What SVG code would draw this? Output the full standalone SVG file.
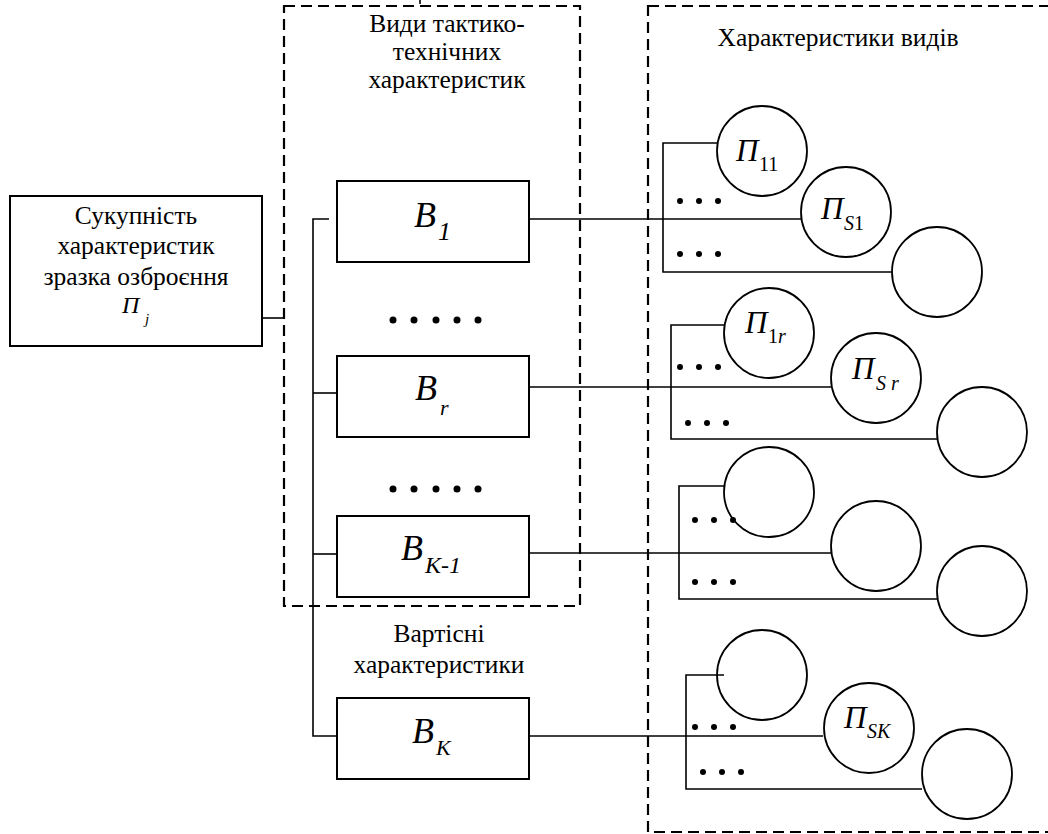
<svg xmlns="http://www.w3.org/2000/svg" width="1048" height="834" viewBox="0 0 1048 834">
<style>
text{font-family:"Liberation Serif","Tinos","DejaVu Serif",serif;fill:#000}
.t{font-size:25.5px;text-anchor:middle}
.b{font-style:italic}
.up{font-style:normal}
.box{fill:#fff;stroke:#000;stroke-width:2}
.cir{fill:none;stroke:#000;stroke-width:1.8}
.ln{fill:none;stroke:#000;stroke-width:1.6}
.dash{fill:none;stroke:#000;stroke-width:2.2;stroke-dasharray:11 6}
.dot{fill:#000}
</style>
<rect width="1048" height="834" fill="#fff"/>
<g id="groups">
<rect class="dash" x="284" y="6" width="296" height="600"/>
<rect class="dash" x="648" y="6" width="420" height="826"/>
<line class="ln" x1="420" y1="0" x2="420" y2="4"/>
<text class="t" x="447" y="32">Види тактико-</text>
<text class="t" x="447" y="60">технічних</text>
<text class="t" x="447" y="88">характеристик</text>
<text class="t" x="838" y="46">Характеристики видів</text>
<text class="t" x="439" y="642">Вартісні</text>
<text class="t" x="439" y="673">характеристики</text>
</g>
<g id="connectors">
<polyline class="ln" points="262,318 284,318"/>
<polyline class="ln" points="329,219 313,219 313,736 337,736"/>
<line class="ln" x1="313" y1="393" x2="337" y2="393"/>
<line class="ln" x1="313" y1="554" x2="337" y2="554"/>
<line class="ln" x1="529" y1="219" x2="801" y2="219"/>
<line class="ln" x1="529" y1="387" x2="831" y2="387"/>
<line class="ln" x1="529" y1="553" x2="831" y2="553"/>
<line class="ln" x1="529" y1="736" x2="823" y2="736"/>
<polyline class="ln" points="717,143 663,143 663,272 892,272"/>
<polyline class="ln" points="724,325 671,325 671,439 937,439"/>
<polyline class="ln" points="724,486 679,486 679,599 937,599"/>
<polyline class="ln" points="724,675 686,675 686,789 922,789"/>
</g>
<g id="dots">
<circle class="dot" cx="393" cy="320" r="3.5"/><circle class="dot" cx="414" cy="320" r="3.5"/><circle class="dot" cx="436" cy="320" r="3.5"/><circle class="dot" cx="457" cy="320" r="3.5"/><circle class="dot" cx="478" cy="320" r="3.5"/>
<circle class="dot" cx="393" cy="489" r="3.5"/><circle class="dot" cx="414" cy="489" r="3.5"/><circle class="dot" cx="436" cy="489" r="3.5"/><circle class="dot" cx="457" cy="489" r="3.5"/><circle class="dot" cx="478" cy="489" r="3.5"/>
<circle class="dot" cx="680" cy="201" r="3"/><circle class="dot" cx="699" cy="201" r="3"/><circle class="dot" cx="718" cy="201" r="3"/>
<circle class="dot" cx="680" cy="254" r="3"/><circle class="dot" cx="699" cy="254" r="3"/><circle class="dot" cx="718" cy="254" r="3"/>
<circle class="dot" cx="680" cy="367" r="3"/><circle class="dot" cx="699" cy="367" r="3"/><circle class="dot" cx="718" cy="367" r="3"/>
<circle class="dot" cx="688" cy="423" r="3"/><circle class="dot" cx="707" cy="423" r="3"/><circle class="dot" cx="726" cy="423" r="3"/>
<circle class="dot" cx="695" cy="520" r="3"/><circle class="dot" cx="714" cy="520" r="3"/><circle class="dot" cx="733" cy="520" r="3"/>
<circle class="dot" cx="695" cy="582" r="3"/><circle class="dot" cx="714" cy="582" r="3"/><circle class="dot" cx="733" cy="582" r="3"/>
<circle class="dot" cx="695" cy="727" r="3"/><circle class="dot" cx="714" cy="727" r="3"/><circle class="dot" cx="733" cy="727" r="3"/>
<circle class="dot" cx="703" cy="772" r="3"/><circle class="dot" cx="722" cy="772" r="3"/><circle class="dot" cx="741" cy="772" r="3"/>
</g>
<g id="node-total">
<rect class="box" x="10" y="196" width="252" height="150"/>
<text class="t" x="136" y="224">Сукупність</text>
<text class="t" x="136" y="254">характеристик</text>
<text class="t" x="136" y="285">зразка озброєння</text>
<text class="b" font-size="24" x="122" y="313">П<tspan font-size="15" x="145" y="324">j</tspan></text>
</g>
<g id="node-B1">
<rect class="box" x="337" y="181" width="192" height="81"/>
<text class="b" font-size="36" x="414" y="227">B<tspan font-size="26" x="438" y="240">1</tspan></text>
</g>
<g id="node-Br">
<rect class="box" x="337" y="356" width="192" height="81"/>
<text class="b" font-size="36" x="415" y="400">B<tspan font-size="22" x="440" y="415">r</tspan></text>
</g>
<g id="node-BK-1">
<rect class="box" x="337" y="516" width="192" height="81"/>
<text class="b" font-size="36" x="401" y="560">B<tspan font-size="24" x="425" y="573">K-1</tspan></text>
</g>
<g id="node-BK">
<rect class="box" x="337" y="698" width="192" height="81"/>
<text class="b" font-size="36" x="412" y="743">B<tspan font-size="22" x="436" y="755">K</tspan></text>
</g>
<g id="node-P11">
<circle class="cir" cx="762" cy="151" r="45"/>
<text class="b" font-size="31" x="736" y="161">П<tspan class="up" font-size="20" x="759" y="171">11</tspan></text>
</g>
<g id="node-PS1">
<circle class="cir" cx="846" cy="212" r="45"/>
<text class="b" font-size="31" x="821" y="219">П<tspan font-size="20" x="844" y="230">S</tspan><tspan class="up" font-size="20">1</tspan></text>
</g>
<g id="node-c13">
<circle class="cir" cx="937" cy="272" r="45"/>
</g>
<g id="node-P1r">
<circle class="cir" cx="769" cy="333" r="45"/>
<text class="b" font-size="31" x="745" y="333">П<tspan class="up" font-size="20" x="768" y="343">1</tspan><tspan font-size="20">r</tspan></text>
</g>
<g id="node-PSr">
<circle class="cir" cx="876" cy="378" r="45"/>
<text class="b" font-size="31" x="852" y="379">П<tspan font-size="20" x="876" y="390">S r</tspan></text>
</g>
<g id="node-c23">
<circle class="cir" cx="982" cy="432" r="45"/>
</g>
<g id="node-c31">
<circle class="cir" cx="769" cy="492" r="45"/>
</g>
<g id="node-c32">
<circle class="cir" cx="876" cy="546" r="45"/>
</g>
<g id="node-c33">
<circle class="cir" cx="982" cy="591" r="45"/>
</g>
<g id="node-c41">
<circle class="cir" cx="762" cy="675" r="45"/>
</g>
<g id="node-PSK">
<circle class="cir" cx="869" cy="728" r="45"/>
<text class="b" font-size="31" x="844" y="728">П<tspan font-size="20" x="867" y="738">SK</tspan></text>
</g>
<g id="node-c43">
<circle class="cir" cx="967" cy="774" r="45"/>
</g>
</svg>
